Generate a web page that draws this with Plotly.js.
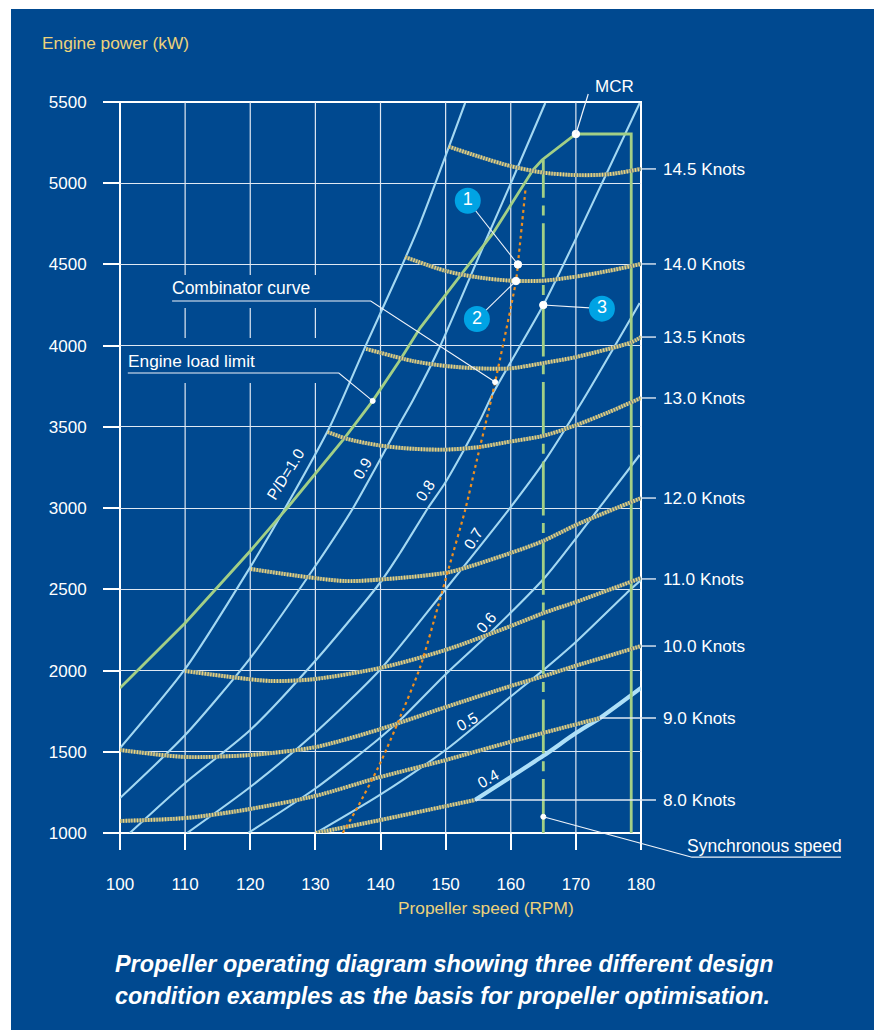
<!DOCTYPE html>
<html><head><meta charset="utf-8">
<script src="https://cdn.plot.ly/plotly-3.0.1.min.js"></script>
<style>html,body{margin:0;padding:0;background:#fff}#c{width:874px;height:1030px}</style>
</head><body><div id="c"></div>
<script>
// ---------- data ----------
const xTicks = [100,110,120,130,140,150,160,170,180];
const yTicks = [1000,1500,2000,2500,3000,3500,4000,4500,5000,5500];
const gridVerticals = [110,120,130,140,150,160,170];
const gappedVerticals = [110,120,130];
const gapSpans = [[4232,4435],[3770,4047]];

const pd10x = [100,110,120,125.8,132.2,137.9,143,146.1,153];
const pd10y = [1523,2010,2637,3031,3499,4016,4466,4755,5494];
const pd09x = [100,110,120,130.1,135.8,143,145,149.1,156.4,159.9,165.3];
const pd09y = [1215,1603,2077,2650,3001,3524,3666,3992,4669,4989,5494];
const pd08x = [101.5,110,120,130.1,139.9,143,147.3,150,155.3,157.3,165,169.9,179.8];
const pd08y = [1000,1308,1634,2065,2539,2724,3001,3161,3542,3709,4250,4650,5494];
const pd07x = [110.3,120,130.1,139.9,149.9,159.9,165,171.1,179.8];
const pd07y = [1000,1283,1622,2003,2496,3001,3278,3666,4263];
const pd06x = [119.7,130.1,139.9,143.5,150.2,156.8,165.3,173.7,179.8];
const pd06y = [1000,1277,1585,1714,1985,2231,2576,3007,3327];
const pd05x = [130.1,139.9,150.2,159.9,165,170,178.3,180];
const pd05y = [1000,1234,1517,1837,2003,2176,2496,2557];
const pd04x = [154.5,160,165,170,173.7,180];
const pd04y = [1203,1345,1475,1615,1708,1893];

const kt145x = [150.5,155,160,165,170,175,180];
const kt145y = [5225,5165,5105,5065,5050,5055,5088];
const kt140x = [143.8,150,155,160,165,170,175,180];
const kt140y = [4545,4460,4420,4400,4400,4425,4460,4503];
const kt135x = [137.8,145,150,155,160,165,170,178.5,180];
const kt135y = [3980,3905,3875,3860,3860,3893,3930,4020,4053];
const kt130x = [131.9,135,140,145,150,155,160,165,170,175,180];
const kt130y = [3468,3425,3385,3365,3360,3375,3410,3445,3510,3590,3678];
const kt120x = [120.1,134.5,143,150.7,160,165,170,180];
const kt120y = [2625,2551,2570,2607,2724,2798,2896,3062];
const kt110x = [110,123,130,140,150,160,165,170,180];
const kt110y = [1997,1936,1948,2016,2127,2274,2354,2422,2570];
const kt100x = [100,110,120,130,140,150,160,165,170,175,180];
const kt100y = [1511,1468,1480,1529,1640,1775,1905,1965,2030,2090,2151];
const kt090x = [100,110,120,130,140,150,160,165,173.7];
const kt090y = [1074,1092,1148,1228,1345,1449,1562,1616,1708];
const kt080x = [130.1,140,150,154.5];
const kt080y = [1000,1080,1165,1203];

const loadLimitX = [100,110,120,125.8,134.5,138.8,143,146.1,157.3,163.4,164.8,170,178.5,178.5];
const loadLimitY = [1893,2293,2736,3007,3432,3660,3912,4110,4694,5081,5143,5303,5303,1000];
const syncX = [165,165];
const syncY = [1000,5143];

const combX = [134.2,136.5,139.6,141,142.7,146.1,148.8,150.4,153,154.8,156.7,157.6,160.8,161.1,162.3];
const combY = [1000,1160,1400,1523,1683,2022,2391,2619,2988,3296,3616,3776,4398,4503,4977];

const dotX = [161.1,160.8,165,170,138.8,157.6,165];
const dotY = [4500,4398,4250,5303,3660,3776,1100];
const dotSize = [7.5,7.5,7.5,7.5,5,5,5];
const badgeX = [153.4,154.8,174];
const badgeY = [4892,4164,4228];
const badgeText = ['1','2','3'];

const innerLeaders = [
  [[153.4,161.1],[4892,4500]],
  [[154.8,160.8],[4164,4398]],
  [[174,165],[4228,4250]],
  [[108,138.5,157.6],[4275,4275,3776]],
  [[101.2,133.6,138.8],[3832,3832,3660]]
];
const outerLeaders = [
  [[170,171.9],[5303,5549]],
  [[165,187.7],[1100,852]],
  [[187.7,210.7],[852,852]]
];
const tickRows = [
  [180,5088],[180,4503],[180,4053],[180,3678],[180,3062],[180,2564],[180,2151],[173.7,1708],[154.5,1203]
];
const knotLabels = ['14.5 Knots','14.0 Knots','13.5 Knots','13.0 Knots','12.0 Knots','11.0 Knots','10.0 Knots','9.0 Knots','8.0 Knots'];
const knotLabelY = [169,264,337,398,498,579,646,718,800];
const pdLabels = ['P/D=1.0','0.9','0.8','0.7','0.6','0.5','0.4'];
const pdLabelPos = [[285,474,-58],[362,468,-60],[425,490,-57],[473,538,-58],[486,622,-50],[467,721,-30],[488,778,-30]];

// ---------- page geometry ----------
const W=874,H=1030,L=120,R=641,T=102,B=833;
const px = v => (v-L)/(R-L), py = v => 1-(v-T)/(B-T);
const rx = v => (v-100)/80, ry = v => (v-1000)/4500;   // data -> paper fractions, for marks outside the plot
const FONT='"Liberation Sans", Arial, sans-serif';
const NAVY='#004990', GRID='#dfe8f3', BLUE='#a3d8f2', GREEN='#a2cf86', YEL='#ecd27b';

const traces=[];
gridVerticals.forEach(v=>{
  let ys = gappedVerticals.includes(v) ? [1000,gapSpans[1][0],null,gapSpans[1][1],gapSpans[0][0],null,gapSpans[0][1],5500] : [1000,5500];
  traces.push({x:ys.map(y=>y===null?null:v),y:ys,mode:'lines',line:{color:GRID,width:1.2},hoverinfo:'skip'});
});
const spline={shape:'spline',smoothing:0.7};
[[pd10x,pd10y],[pd09x,pd09y],[pd08x,pd08y],[pd07x,pd07y],[pd06x,pd06y],[pd05x,pd05y]].forEach(c=>{
  traces.push({x:c[0],y:c[1],mode:'lines',line:{color:BLUE,width:2.1,...spline},hoverinfo:'skip'});
});
traces.push({x:pd04x,y:pd04y,mode:'lines',line:{color:'#aee0f8',width:4.2,...spline},hoverinfo:'skip'});
traces.push({x:loadLimitX,y:loadLimitY,mode:'lines',line:{color:GREEN,width:2.8},hoverinfo:'skip'});
traces.push({x:syncX,y:syncY,mode:'lines',line:{color:GREEN,width:2.8,dash:'54px,7.7px,10px,7.7px'},hoverinfo:'skip'});
[[kt145x,kt145y],[kt140x,kt140y],[kt135x,kt135y],[kt130x,kt130y],[kt120x,kt120y],[kt110x,kt110y],[kt100x,kt100y],[kt090x,kt090y],[kt080x,kt080y]].forEach(c=>{
  traces.push({x:c[0],y:c[1],mode:'lines',line:{color:'#6f8a88',width:3.9,...spline},hoverinfo:'skip'});
  traces.push({x:c[0],y:c[1],mode:'lines',line:{color:'#eed680',width:3.9,dash:'1.2px,1.6px',...spline},hoverinfo:'skip'});
});
traces.push({x:combX,y:combY,mode:'lines',line:{color:'#ef8f1f',width:2.2,dash:'3px,3.5px',...spline},hoverinfo:'skip'});
innerLeaders.forEach(l=>traces.push({x:l[0],y:l[1],mode:'lines',line:{color:'#f0f4fa',width:1.1},hoverinfo:'skip'}));
traces.push({x:dotX,y:dotY,mode:'markers',marker:{color:'#fff',size:dotSize,opacity:1},hoverinfo:'skip'});
traces.push({x:badgeX,y:badgeY,text:badgeText,mode:'markers+text',textposition:'middle center',
  textfont:{family:FONT,size:18,color:'#fff'},marker:{color:'#00a3e4',size:26},hoverinfo:'skip'});

const ann=[];
const txt=(text,x,y,size,color,anchor,extra)=>ann.push(Object.assign({text,x:px(anchor==='left'?x-2:x),y:py(y),xref:'paper',yref:'paper',
  xanchor:anchor,yanchor:'middle',showarrow:false,font:{family:FONT,size,color}},extra||{}));
txt('Engine power (kW)',42,43,17.3,YEL,'left');
txt('Propeller speed (RPM)',486,908,17.3,YEL,'center');
txt('MCR',614,86,17,'#fff','center');
txt('Combinator curve',172,288,17.5,'#fff','left');
txt('Engine load limit',128,361,17.3,'#fff','left');
txt('Synchronous speed',687,846,17.5,'#fff','left');
knotLabels.forEach((t,i)=>txt(t,663,knotLabelY[i],17.2,'#fff','left'));
pdLabels.forEach((t,i)=>{const p=pdLabelPos[i];txt(t,p[0],p[1],15.5,'#fff','center',{textangle:p[2]});});
txt('<b><i>Propeller operating diagram showing three different design</i></b>',115,964,23.4,'#fff','left');
txt('<b><i>condition examples as the basis for propeller optimisation.</i></b>',115,996,23.4,'#fff','left');

const shapes=[
  {type:'rect',layer:'below',xref:'paper',yref:'paper',x0:px(11),x1:px(874),y0:py(1030),y1:py(9),fillcolor:NAVY,line:{width:0}},
  {type:'rect',layer:'below',xref:'paper',yref:'paper',x0:0,x1:1,y0:0,y1:1,line:{color:'#fff',width:2}}
];
const seg=(x0,y0,x1,y1,color,width)=>shapes.push({type:'line',xref:'paper',yref:'paper',x0:rx(x0),y0:ry(y0),x1:rx(x1),y1:ry(y1),line:{color,width}});
tickRows.forEach(r=>seg(r[0],r[1],182.3,r[1],GRID,1.4));
outerLeaders.forEach(l=>seg(l[0][0],l[1][0],l[0][1],l[1][1],'#f0f4fa',1.2));

const layout={
  width:W,height:H,autosize:false,showlegend:false,
  margin:{l:L,r:W-R,t:T,b:H-B,pad:0},
  paper_bgcolor:'#fff',plot_bgcolor:'rgba(0,0,0,0)',
  font:{family:FONT,color:'#fff'},
  xaxis:{range:[100,180],tickvals:xTicks,ticktext:xTicks.map(String),showgrid:false,zeroline:false,showline:false,
    ticks:'outside',ticklen:16,tickwidth:1.8,tickcolor:'#fff',
    ticklabelstandoff:20,tickfont:{family:FONT,size:17,color:'#fff'}},
  yaxis:{range:[1000,5500],tickvals:yTicks,ticktext:yTicks.map(String),showgrid:true,gridcolor:GRID,gridwidth:1.4,zeroline:false,showline:false,
    ticks:'outside',ticklen:16,tickwidth:1.8,tickcolor:'#fff',
    ticklabelstandoff:13,tickfont:{family:FONT,size:17,color:'#fff'}},
  shapes,annotations:ann
};
Plotly.newPlot('c',traces,layout,{displayModeBar:false,responsive:false});
</script></body></html>
